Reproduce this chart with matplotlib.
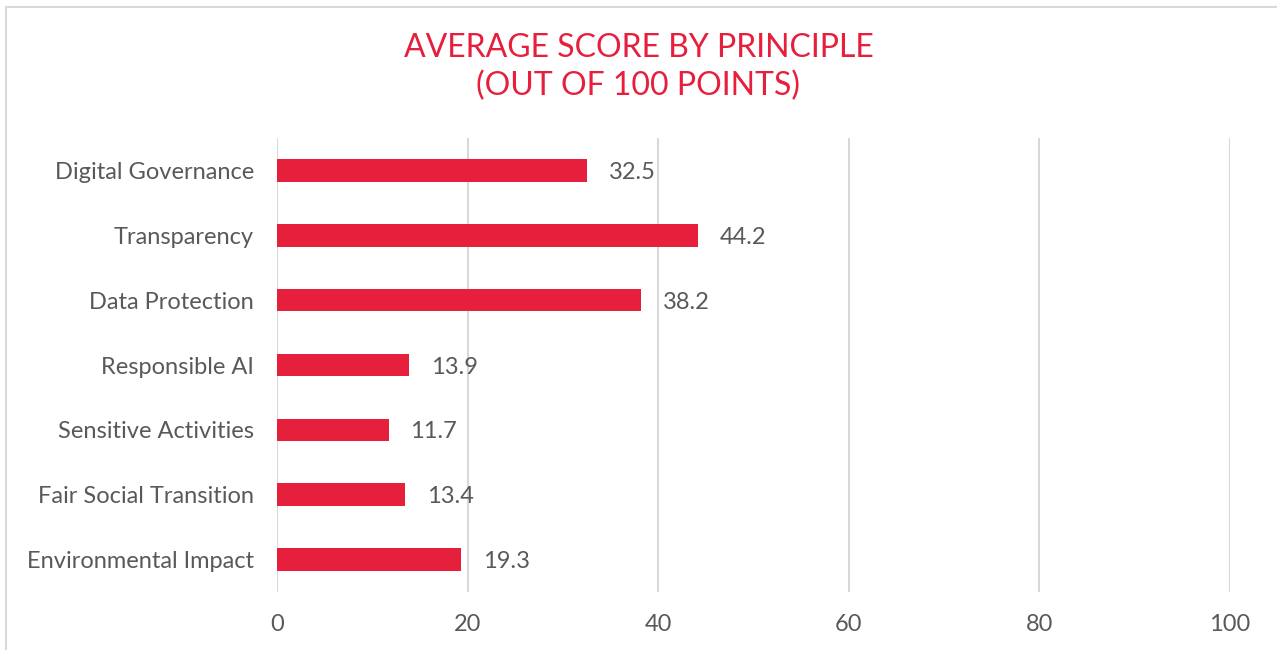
import matplotlib
matplotlib.use("Agg")
import matplotlib.pyplot as plt
from matplotlib.patches import Rectangle

categories = ["Digital Governance", "Transparency", "Data Protection", "Responsible AI",
              "Sensitive Activities", "Fair Social Transition", "Environmental Impact"]
scores = [32.5, 44.2, 38.2, 13.9, 11.7, 13.4, 19.3]
x_ticks = [0, 20, 40, 60, 80, 100]
title_lines = ["AVERAGE SCORE BY PRINCIPLE", "(OUT OF 100 POINTS)"]

red = "#E61F3D"
grey_text = "#595959"
grid_col = "#D9D9D9"

plt.rcParams["font.family"] = ["Lato", "DejaVu Sans"]

fig = plt.figure(figsize=(12.77, 6.5), dpi=100)
ax = fig.add_axes([277 / 1277, 1 - 592 / 650, (1230 - 277) / 1277, (592 - 138) / 650])

ypos = list(range(len(categories)))
ax.barh(ypos, scores, height=0.35, color=red, zorder=3)
for y, v in zip(ypos, scores):
    ax.annotate(f"{v}", (v, y), xytext=(22, -2), textcoords="offset pixels",
                va="center", ha="left", fontsize=17, color=grey_text)

ax.set_ylim(len(categories) - 0.5, -0.5)
ax.set_xlim(0, 100)
ax.set_yticks(ypos)
ax.set_yticklabels(categories, fontsize=17, color=grey_text)
ax.set_xticks(x_ticks)
ax.set_xticklabels([str(t) for t in x_ticks], fontsize=17, color=grey_text)
ax.tick_params(axis="both", length=0)
ax.tick_params(axis="y", pad=16.5)
ax.tick_params(axis="x", pad=16)
ax.xaxis.grid(True, color=grid_col, linewidth=1.5, zorder=0)
ax.set_axisbelow(True)
for s in ax.spines.values():
    s.set_visible(False)

# two title lines placed separately to match the wide line gap
for line, ypx in zip(title_lines, [48, 86]):
    fig.text(0.5, 1 - ypx / 650, line, ha="center", va="center",
             fontsize=23, color=red)

fig.patches.append(Rectangle((6 / 1277, -0.02), 1.02, 1.02 - 7 / 650,
                             transform=fig.transFigure, fill=False,
                             edgecolor=grid_col, linewidth=1.5))

fig.savefig("out.png", dpi=100)
